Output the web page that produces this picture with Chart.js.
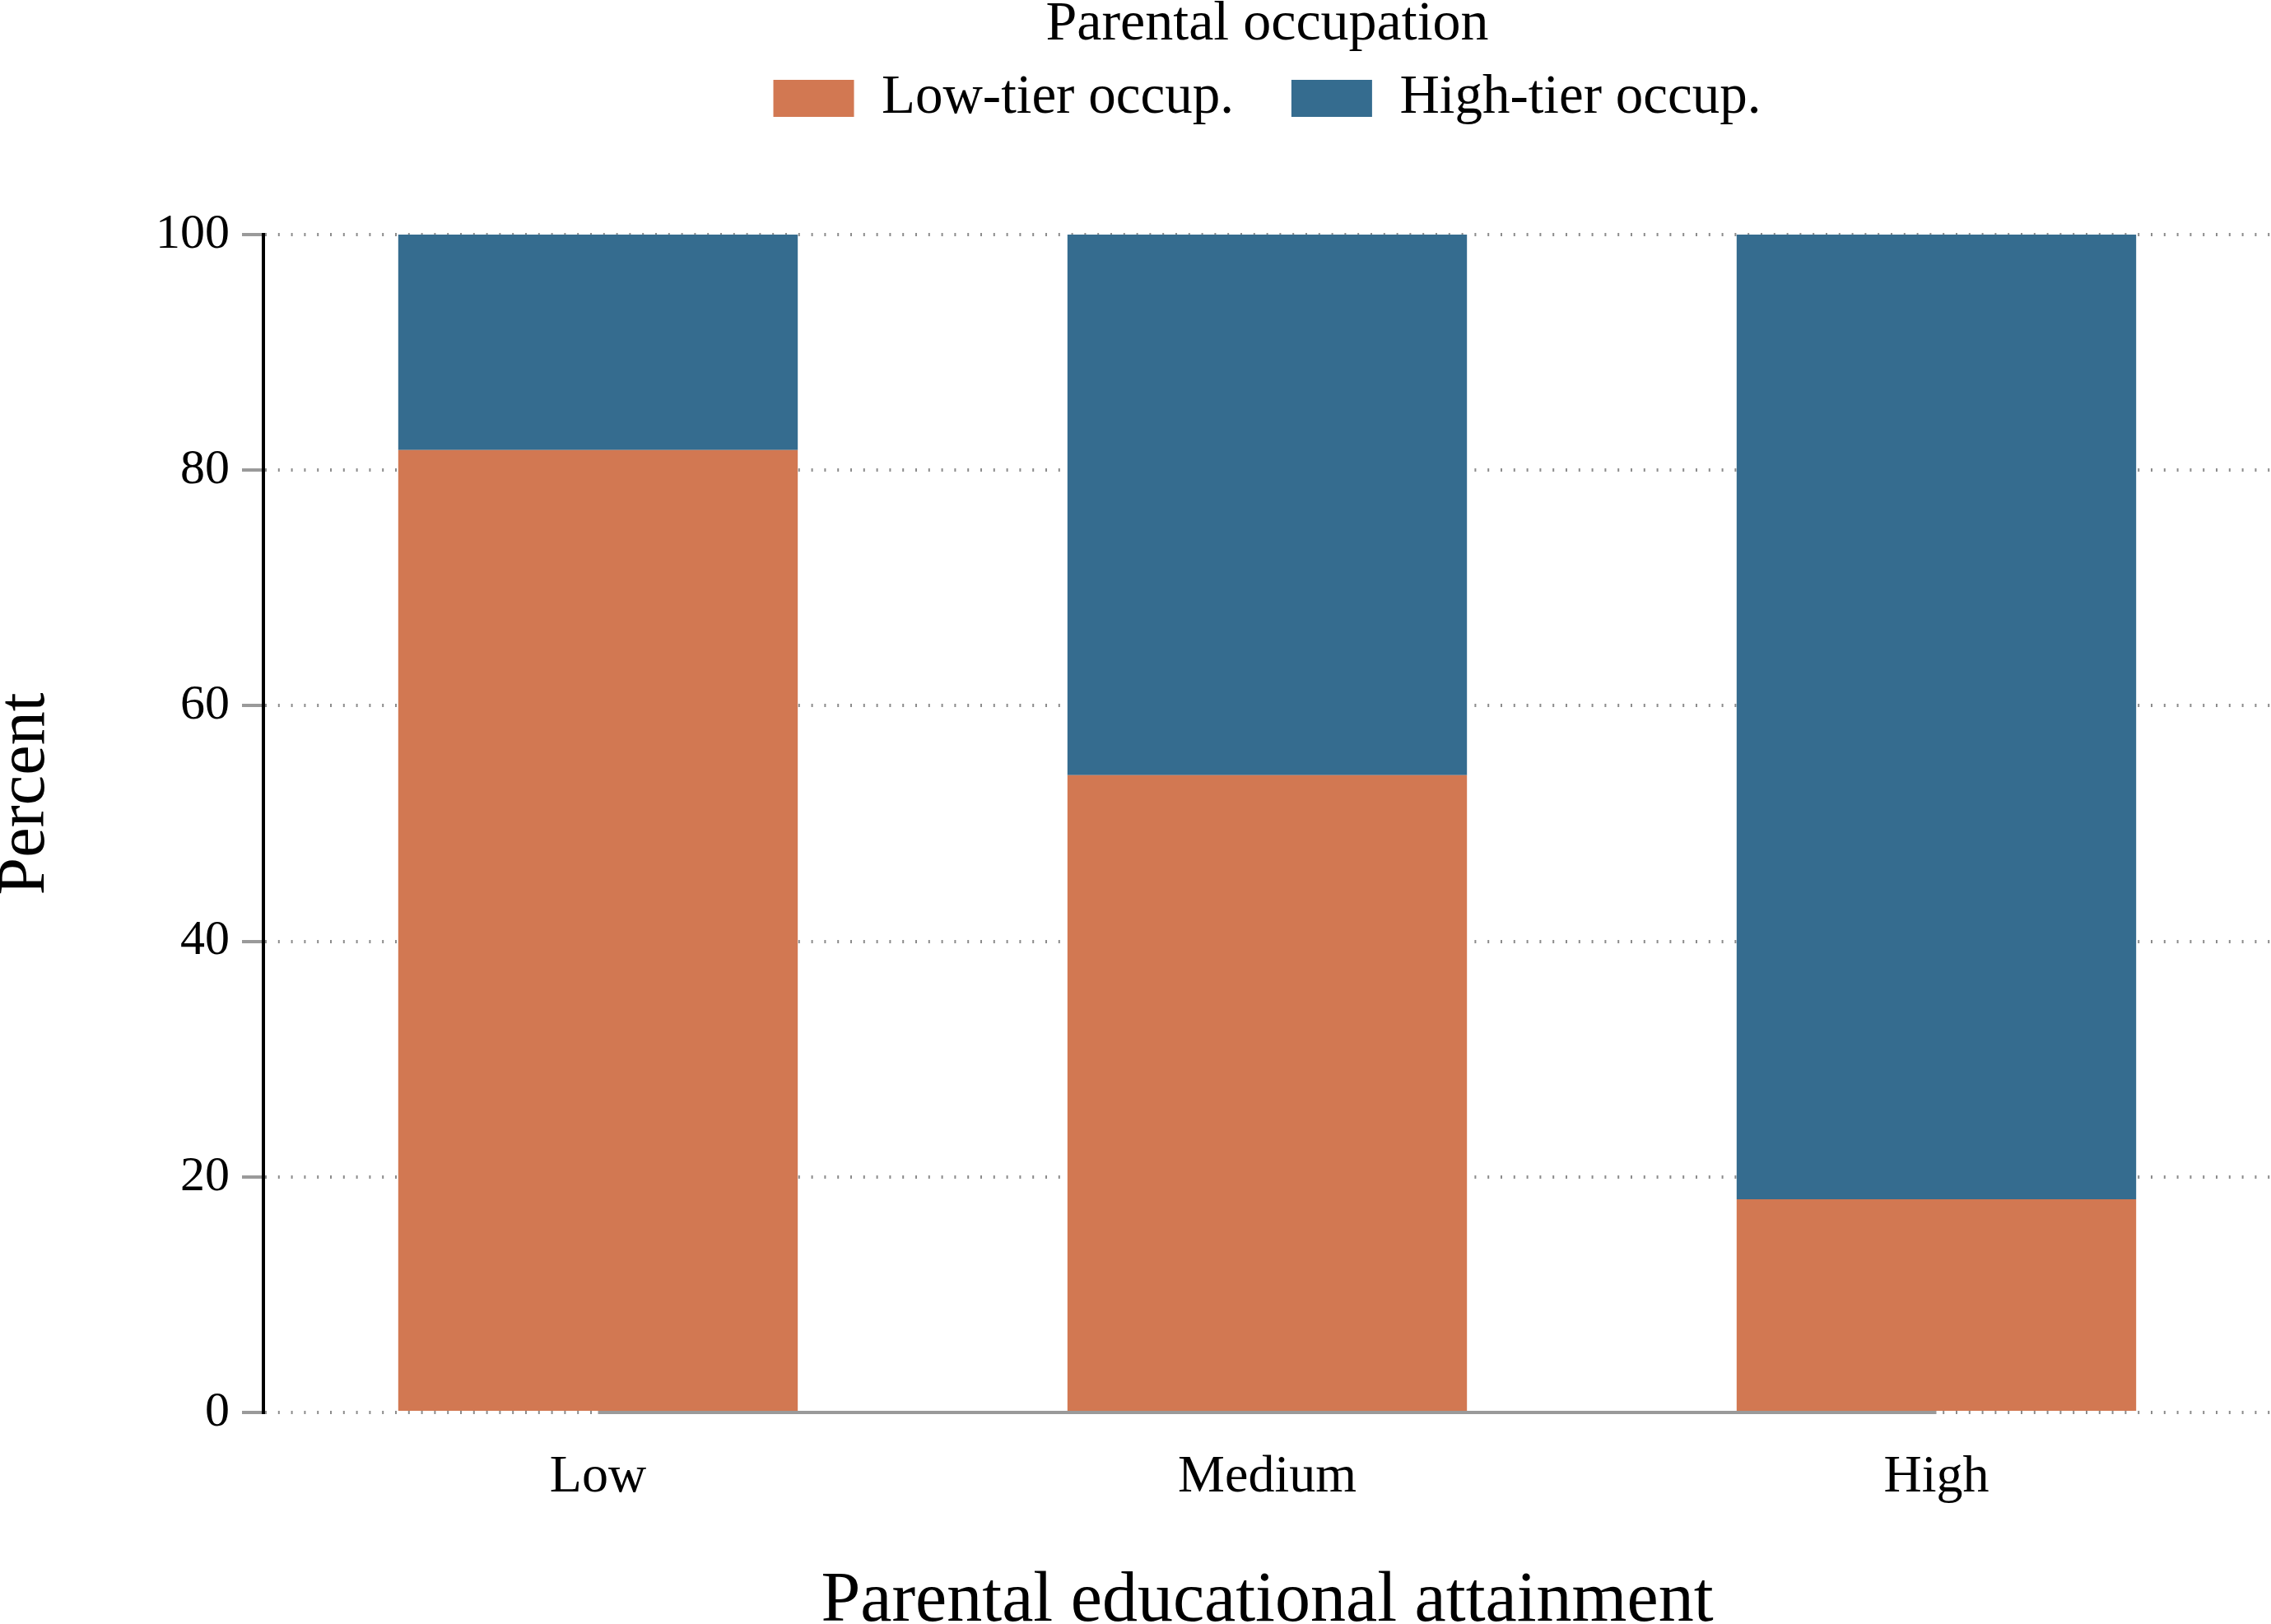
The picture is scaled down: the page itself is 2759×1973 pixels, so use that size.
<!DOCTYPE html>
<html>
<head>
<meta charset="utf-8">
<script src="https://cdn.jsdelivr.net/npm/chart.js@4.4.1/dist/chart.umd.min.js"></script>
<style>
  html, body { margin: 0; padding: 0; background: #ffffff; }
  #wrap { width: 2759px; height: 1973px; }
</style>
</head>
<body>
<div id="wrap"><canvas id="c" width="2759" height="1973" style="width:2759px;height:1973px"></canvas></div>
<script>
// ---- data ----
const categories = ['Low', 'Medium', 'High'];
const lowTierOccup = [81.7, 54.1, 18.1];
const highTierOccup = [18.3, 45.9, 81.9];
const seriesNames = ['Low-tier occup.', 'High-tier occup.'];
const yTicks = [0, 20, 40, 60, 80, 100];

const FONT = "'Liberation Serif', 'Times New Roman', serif";
const ORANGE = '#D27852';
const BLUE = '#356C8F';

const layoutPlugin = {
  id: 'layoutTweaks',
  beforeLayout(chart) {
    const lg = chart.legend;
    if (lg && !lg._wrappedFit) {
      const orig = lg.fit.bind(lg);
      lg.fit = function () { orig(); this.height = 285; };
      lg._wrappedFit = true;
    }
  },
  afterLayout(chart) {
    const ys = chart.scales.y;
    if (ys && !ys._wrappedTitle) {
      const origTitle = ys.drawTitle.bind(ys);
      ys.drawTitle = function () {
        const ctx = this.ctx;
        ctx.save();
        ctx.translate(0, -36);
        origTitle();
        ctx.restore();
      };
      ys._wrappedTitle = true;
    }
  },
  beforeDraw(chart) {
    const lg = chart.legend;
    if (lg) {
      lg.left = chart.chartArea.left;
      lg.right = chart.width;
      lg.width = lg.right - lg.left;
    }
  },
  afterDatasetsDraw(chart) {
    const x = chart.scales.x, y = chart.scales.y;
    const ctx = chart.ctx;
    const y0 = y.getPixelForValue(0);
    ctx.save();
    ctx.strokeStyle = '#9a9a9a';
    ctx.lineWidth = 4;
    ctx.beginPath();
    ctx.moveTo(x.getPixelForValue(0), y0);
    ctx.lineTo(x.getPixelForValue(categories.length - 1), y0);
    ctx.stroke();
    ctx.restore();
  }
};

new Chart(document.getElementById('c'), {
  type: 'bar',
  data: {
    labels: categories,
    datasets: [
      { label: seriesNames[0], data: lowTierOccup, backgroundColor: ORANGE, borderWidth: 0 },
      { label: seriesNames[1], data: highTierOccup, backgroundColor: BLUE, borderWidth: 0 }
    ]
  },
  options: {
    responsive: false,
    devicePixelRatio: 1,
    animation: false,
    layout: { padding: 0 },
    datasets: { bar: { categoryPercentage: 1.0, barPercentage: 0.597 } },
    plugins: {
      tooltip: { enabled: false },
      legend: {
        position: 'top',
        align: 'center',
        title: {
          display: true,
          text: 'Parental occupation',
          color: '#000000',
          font: { family: FONT, size: 68 },
          padding: { top: -3.5, bottom: -62 }
        },
        labels: {
          color: '#000000',
          font: { family: FONT, size: 67 },
          boxWidth: 98,
          boxHeight: 45,
          padding: 70
        }
      }
    },
    scales: {
      x: {
        stacked: true,
        offset: true,
        grid: { display: false, drawTicks: false },
        border: { display: false },
        ticks: {
          color: '#000000',
          font: { family: FONT, size: 64 },
          padding: 41,
          maxRotation: 0,
          autoSkip: false
        },
        title: {
          display: true,
          text: 'Parental educational attainment',
          color: '#000000',
          font: { family: FONT, size: 86, lineHeight: 0.8 },
          padding: { top: 37.4, bottom: -8 }
        }
      },
      y: {
        stacked: true,
        min: 0,
        max: 100,
        afterBuildTicks(scale) { scale.ticks = yTicks.map(v => ({ value: v })); },
        grid: {
          display: true,
          drawOnChartArea: true,
          drawTicks: true,
          color: '#8c8c8c',
          lineWidth: 4,
          tickLength: 26,
          tickColor: '#9a9a9a',
          tickWidth: 4,
          tickBorderDash: [100, 0]
        },
        border: { display: true, color: '#000000', width: 4, dash: [2, 13.8] },
        ticks: {
          color: '#000000',
          font: { family: FONT, size: 60 },
          padding: 15
        },
        title: {
          display: true,
          text: 'Percent',
          color: '#000000',
          font: { family: FONT, size: 82, lineHeight: 1 },
          padding: { top: -10, bottom: 102 }
        }
      }
    }
  },
  plugins: [layoutPlugin]
});
</script>
</body>
</html>
